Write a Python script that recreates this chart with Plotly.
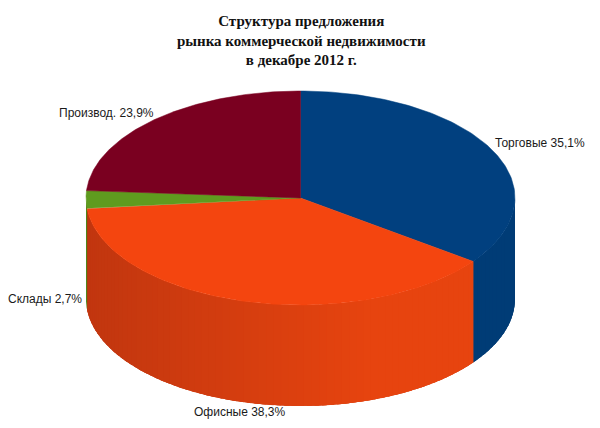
import plotly.graph_objects as go
import numpy as np

# data
labels = ["Торговые", "Офисные", "Склады", "Производ."]
shares = [35.1, 38.3, 2.7, 23.9]
label_text = ["Торговые 35,1%", "Офисные 38,3%", "Склады 2,7%", "Производ. 23,9%"]

# styling
top_colors = ["#01407f", "#f4450f", "#5f9b1f", "#7a0020"]
side_dark = ["#00366b", "#c1360f", "#4e8418", "#62001a"]
side_light = ["#003c76", "#e7440f", "#5c961d", "#72001e"]

# pie geometry in page pixels
cx, cy, rx, ry, depth = 300.5, 198, 214.5, 107, 101


def pt(t, dz=0):
    return cx + rx * np.sin(t), cy - ry * np.cos(t) + dz


def mix(c1, c2, f):
    a = [int(c1[i:i + 2], 16) for i in (1, 3, 5)]
    b = [int(c2[i:i + 2], 16) for i in (1, 3, 5)]
    return "#%02x%02x%02x" % tuple(int(round(a[k] + (b[k] - a[k]) * f)) for k in range(3))


def poly(xs, ys, col):
    fig.add_trace(go.Scatter(
        x=list(xs), y=list(ys), fill="toself", fillcolor=col, mode="lines",
        line=dict(width=0), hoverinfo="skip", showlegend=False))


fig = go.Figure()

ends = np.cumsum(shares) / sum(shares) * 2 * np.pi
starts = np.concatenate([[0], ends[:-1]])

# side wall (front half only): one base piece per slice, then overlapping shaded strips
for i in range(len(shares)):
    a0 = max(starts[i], np.pi / 2)
    a1 = min(ends[i], 3 * np.pi / 2)
    if a1 <= a0:
        continue
    ts = np.linspace(a0, a1, 150)
    xt, yt = pt(ts)
    xb, yb = pt(ts[::-1], depth)
    poly(np.r_[xt, xb], np.r_[yt, yb], side_dark[i])
    n = max(2, int((a1 - a0) / np.radians(2)))
    edges = np.linspace(a0, a1, n + 1)
    step = edges[1] - edges[0]
    for j in range(n):
        t1 = edges[j]
        t2 = min(a1, edges[j + 1] + step * 0.6)
        ts = np.linspace(t1, t2, 5)
        xt, yt = pt(ts)
        xb, yb = pt(ts[::-1], depth)
        xm = (pt((t1 + t2) / 2)[0] - (cx - rx)) / (2 * rx)
        col = mix(side_dark[i], side_light[i], min(1, xm * 1.5))
        poly(np.r_[xt, xb], np.r_[yt, yb], col)

# tops
for i in range(len(shares)):
    ts = np.linspace(starts[i], ends[i], 120)
    xs, ys = pt(ts)
    fig.add_trace(go.Scatter(
        x=[cx] + list(xs) + [cx], y=[cy] + list(ys) + [cy],
        fill="toself", fillcolor=top_colors[i], mode="lines",
        line=dict(color=top_colors[i], width=0.5),
        name=labels[i], hoverinfo="name", showlegend=False))

# label placement (pixels)
label_pos = [(493, 143, "left"), (288, 412, "right"), (84, 299, "right"), (57, 113, "left")]
for txt, (x, y, anc) in zip(label_text, label_pos):
    fig.add_annotation(x=x, y=y, text=txt, showarrow=False, xanchor=anc, yanchor="middle",
                       font=dict(family="Liberation Sans, Arial", size=12, color="#1a1a1a"))

fig.add_annotation(
    x=301, y=40, text="<b>Структура предложения<br>рынка коммерческой недвижимости<br>в декабре 2012 г.</b>",
    showarrow=False, xanchor="center", yanchor="middle",
    font=dict(family="Liberation Serif, Times New Roman", size=15, color="#111111"))

# page body has an 8px margin, so shift the ranges to keep page pixels
fig.update_layout(
    width=600, height=428, margin=dict(l=0, r=0, t=0, b=0),
    paper_bgcolor="white", plot_bgcolor="white",
    xaxis=dict(range=[8, 608], visible=False, fixedrange=True),
    yaxis=dict(range=[436, 8], visible=False, fixedrange=True),
)

fig.write_html("out.html")
